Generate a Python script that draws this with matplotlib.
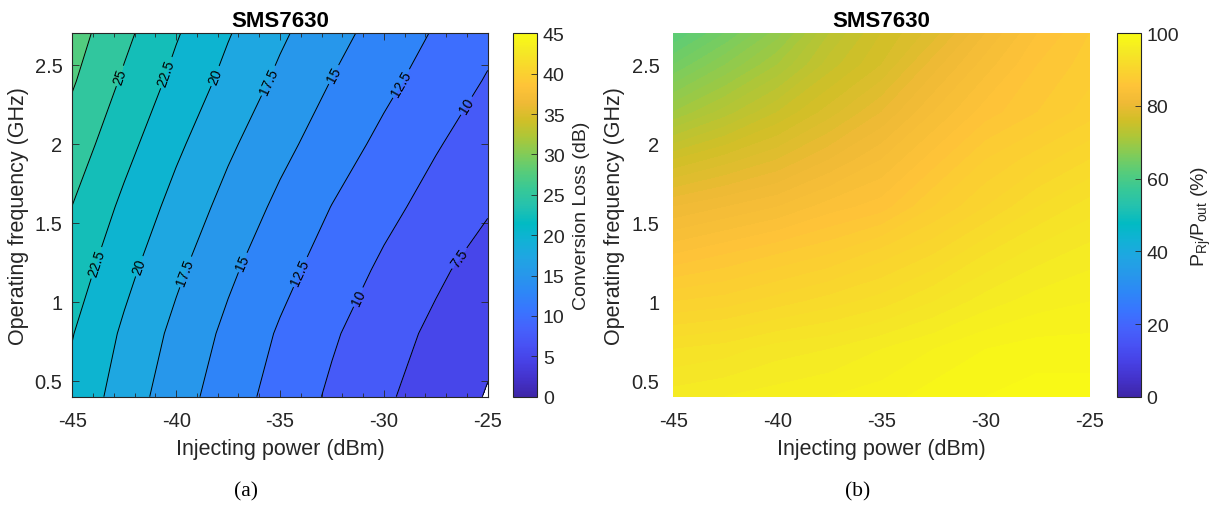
import numpy as np
import matplotlib
matplotlib.use("Agg")
import matplotlib.pyplot as plt
from matplotlib.colors import LinearSegmentedColormap, Normalize
from matplotlib.ticker import MultipleLocator, FormatStrFormatter
import matplotlib.cm as cm

# ---------------- data ----------------
power_dbm = [-45, -42.5, -40, -37.5, -35, -32.5, -30, -27.5, -25]

# (a) conversion loss (dB), rows = frequency, cols = power
freq_cl_ghz = [0.4, 0.8, 1.2, 1.6, 2.0, 2.4, 2.7]
conversion_loss_db = [
    [21.8, 18.84, 16.11, 13.69, 11.54, 9.61, 7.87, 6.32, 4.85],
    [22.6, 19.60, 16.88, 14.43, 12.23, 10.30, 8.57, 6.97, 5.51],
    [23.76, 20.71, 17.97, 15.47, 13.29, 11.34, 9.56, 7.94, 6.44],
    [24.96, 21.97, 19.17, 16.69, 14.45, 12.44, 10.68, 9.13, 7.73],
    [26.36, 23.31, 20.48, 17.94, 15.72, 13.73, 11.90, 10.20, 8.75],
    [27.75, 24.65, 21.82, 19.29, 17.00, 14.94, 13.13, 11.43, 9.82],
    [28.6, 25.59, 22.72, 20.17, 17.90, 15.85, 13.99, 12.27, 10.65],
]
cl_levels = [5, 7.5, 10, 12.5, 15, 17.5, 20, 22.5, 25, 27.5, 30]

# (b) P_Rj / P_out (%)
freq_ratio_ghz = [0.4, 0.7, 1.0, 1.3, 1.6, 1.9, 2.2, 2.5, 2.7]
ratio_pct = [
    [95.5, 96.0, 96.5, 97.0, 97.5, 98.5, 99.0, 99.5, 99.5],
    [93.0, 93.5, 94.5, 95.0, 96.0, 97.0, 98.0, 98.5, 98.5],
    [89.0, 89.5, 90.5, 91.5, 92.5, 94.0, 95.5, 96.5, 97.0],
    [85.0, 86.0, 87.0, 88.0, 89.5, 91.0, 93.0, 94.5, 95.5],
    [81.0, 82.0, 83.0, 84.5, 85.5, 88.0, 90.0, 92.0, 93.5],
    [76.0, 77.5, 79.0, 81.0, 83.0, 85.5, 88.0, 89.5, 91.0],
    [70.0, 72.5, 75.0, 77.5, 80.0, 83.0, 85.5, 87.0, 88.5],
    [65.0, 68.0, 71.0, 74.5, 77.0, 80.5, 83.5, 86.0, 87.5],
    [62.0, 65.0, 68.5, 73.0, 76.0, 78.5, 82.0, 85.0, 87.0],
]

x_ticks = [-45, -40, -35, -30, -25]
y_ticks = [0.5, 1, 1.5, 2, 2.5]
cb1_ticks = [0, 5, 10, 15, 20, 25, 30, 35, 40, 45]
cb2_ticks = [0, 20, 40, 60, 80, 100]

# label anchor points for contour labels (layout)
label_pos = [(-42.7, 2.43), (-40.45, 2.45), (-38.13, 2.43), (-35.56, 2.40),
             (-32.43, 2.44), (-29.14, 2.38), (-26.0, 2.24),
             (-43.9, 1.25), (-41.87, 1.23), (-39.66, 1.195), (-36.93, 1.257),
             (-34.12, 1.195), (-31.39, 1.04), (-26.4, 1.28)]

# ---------------- style ----------------
parula_anchors = [
    (0.2422, 0.1504, 0.6603), (0.2647, 0.1978, 0.7952), (0.2783, 0.2559, 0.8991),
    (0.2810, 0.3228, 0.9579), (0.2699, 0.3892, 0.9906), (0.2206, 0.4603, 0.9973),
    (0.1786, 0.5289, 0.9682), (0.1540, 0.5902, 0.9218), (0.1248, 0.6459, 0.8883),
    (0.0689, 0.6948, 0.8394), (0.0067, 0.7312, 0.7660), (0.1408, 0.7584, 0.6842),
    (0.2161, 0.7843, 0.5923), (0.3406, 0.8008, 0.4789), (0.5044, 0.7993, 0.3480),
    (0.6720, 0.7793, 0.2227), (0.8203, 0.7498, 0.1535), (0.9393, 0.7288, 0.2100),
    (0.9970, 0.7659, 0.2199), (0.9786, 0.8386, 0.1766), (0.9597, 0.9135, 0.1423),
    (0.9769, 0.9839, 0.0805),
]
parula = LinearSegmentedColormap.from_list("parula", parula_anchors, N=256)

plt.rcParams["font.family"] = ["Liberation Sans", "DejaVu Sans"]
plt.rcParams["mathtext.fontset"] = "custom"
plt.rcParams["mathtext.rm"] = "Liberation Sans"
plt.rcParams["mathtext.it"] = "Liberation Sans:italic"
plt.rcParams["axes.unicode_minus"] = False
dark = "#262626"

W, H = 1214, 510
def rect(x0, y0, x1, y1):
    return [x0 / W, 1 - y1 / H, (x1 - x0) / W, (y1 - y0) / H]

fig = plt.figure(figsize=(W / 100, H / 100), dpi=100)
ax1 = fig.add_axes(rect(72.3, 34.3, 487.7, 397.7))
cax1 = fig.add_axes(rect(513.3, 34.3, 537.3, 397.7))
ax2 = fig.add_axes(rect(673.3, 34.3, 1090, 397.7))
cax2 = fig.add_axes(rect(1117, 34.3, 1141, 397.7))

# ---------------- (a) ----------------
P1, F1 = np.meshgrid(power_dbm, freq_cl_ghz)
Z1 = np.array(conversion_loss_db)
norm1 = Normalize(0, 45)
band_colors = [parula(norm1(l)) for l in cl_levels[:-1]]
ax1.contourf(P1, F1, Z1, levels=cl_levels, colors=band_colors)
cs = ax1.contour(P1, F1, Z1, levels=cl_levels, colors="k", linewidths=0.7)
ax1.clabel(cs, manual=label_pos, fontsize=10, inline=True, inline_spacing=3,
           fmt=lambda v: f"{v:g}")
ax1.set_xlim(-45, -25)
ax1.set_ylim(0.4, 2.7)
ax1.set_xticks(x_ticks)
ax1.set_yticks(y_ticks)
ax1.yaxis.set_major_formatter(FormatStrFormatter("%g"))
ax1.xaxis.set_minor_locator(MultipleLocator(1))
ax1.tick_params(which="both", direction="in", top=True, right=True,
                labelsize=14.5, colors=dark, width=0.6)
ax1.tick_params(which="major", length=5)
ax1.tick_params(axis="x", which="major", pad=10)
ax1.tick_params(axis="y", which="major", pad=7)
ax1.tick_params(which="minor", length=3)
ax1.tick_params(axis="y", which="minor", left=False, right=False)
for s in ax1.spines.values():
    s.set_color(dark)
    s.set_linewidth(0.8)
ax1.set_xlabel("Injecting power (dBm)", fontsize=15.5, color=dark, labelpad=6)
ax1.set_ylabel("Operating frequency (GHz)", fontsize=15.5, color=dark, labelpad=4)
ax1.set_title("SMS7630", fontsize=16, fontweight="bold", pad=5)

cb1 = fig.colorbar(cm.ScalarMappable(norm=norm1, cmap=parula), cax=cax1)
cb1.set_ticks(cb1_ticks)
cb1.ax.tick_params(direction="in", length=4, width=0.6, labelsize=14, colors=dark, pad=4)
cb1.outline.set_edgecolor(dark)
cb1.outline.set_linewidth(0.8)
cb1.set_label("Conversion Loss (dB)", fontsize=14, color=dark, labelpad=6)

# ---------------- (b) ----------------
P2, F2 = np.meshgrid(power_dbm, freq_ratio_ghz)
Z2 = np.array(ratio_pct)
norm2 = Normalize(0, 100)
ax2.contourf(P2, F2, Z2, levels=np.arange(0, 101, 1), cmap=parula, norm=norm2)
ax2.set_xlim(-45, -25)
ax2.set_ylim(0.4, 2.7)
ax2.set_xticks(x_ticks)
ax2.set_yticks(y_ticks)
ax2.yaxis.set_major_formatter(FormatStrFormatter("%g"))
ax2.tick_params(length=0, labelsize=14.5, colors=dark)
ax2.tick_params(axis="x", pad=10)
ax2.tick_params(axis="y", pad=10)
for s in ax2.spines.values():
    s.set_visible(False)
ax2.set_xlabel("Injecting power (dBm)", fontsize=15.5, color=dark, labelpad=6)
ax2.set_ylabel("Operating frequency (GHz)", fontsize=15.5, color=dark, labelpad=5)
ax2.set_title("SMS7630", fontsize=16, fontweight="bold", pad=5)

cb2 = fig.colorbar(cm.ScalarMappable(norm=norm2, cmap=parula), cax=cax2)
cb2.set_ticks(cb2_ticks)
cb2.ax.tick_params(direction="in", length=4, width=0.6, labelsize=14, colors=dark, pad=4)
cb2.outline.set_edgecolor(dark)
cb2.outline.set_linewidth(0.8)
cb2.set_label(r"P$_{\mathrm{Rj}}$/P$_{\mathrm{out}}$ (%)", fontsize=14, color=dark, labelpad=8)

fig.text(246 / W, 1 - 492 / H, "(a)", ha="center", va="center",
         fontsize=15.5, family=["Liberation Serif", "DejaVu Serif"])
fig.text(858 / W, 1 - 492 / H, "(b)", ha="center", va="center",
         fontsize=15.5, family=["Liberation Serif", "DejaVu Serif"])

fig.savefig("out.png", dpi=100)
